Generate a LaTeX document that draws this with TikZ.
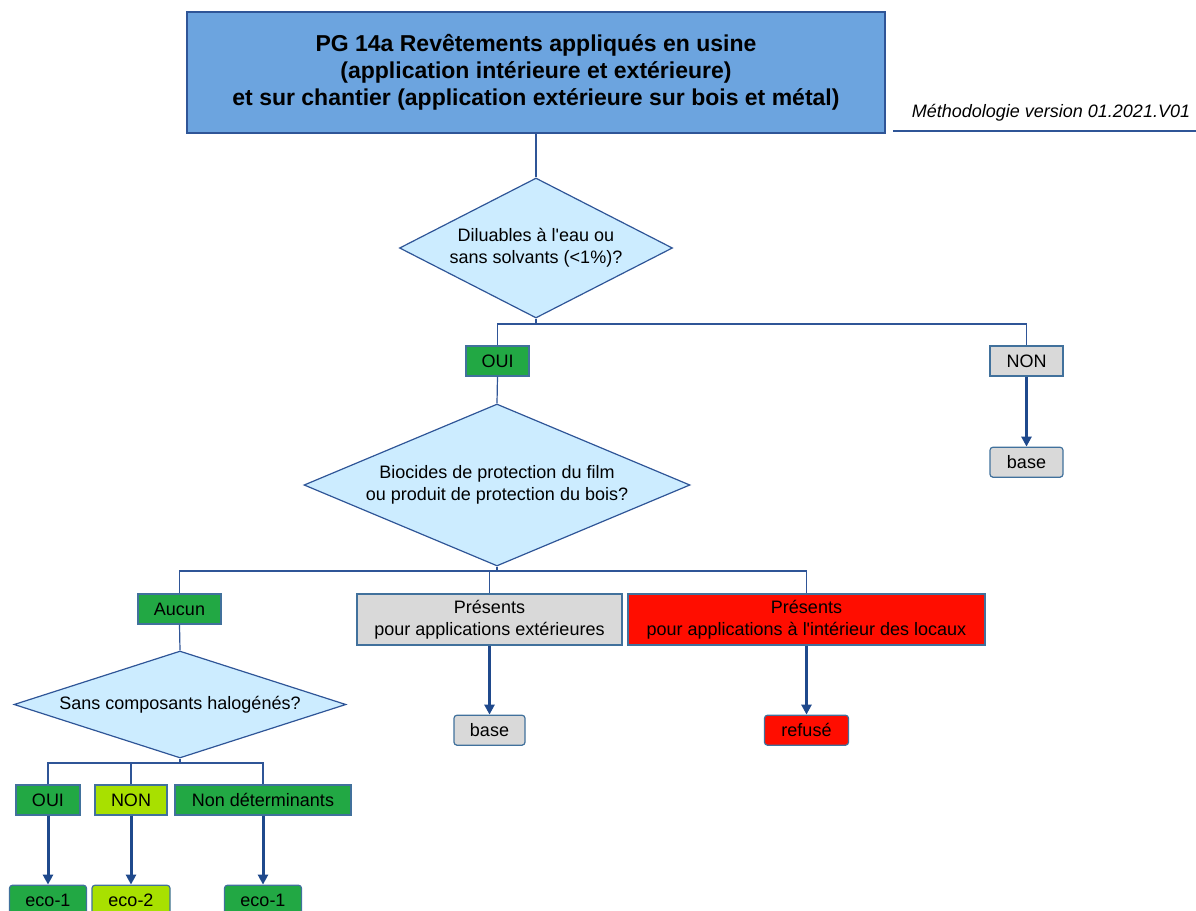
\documentclass[tikz,border=0pt]{standalone}
\usepackage{fontspec}
\setmainfont{Liberation Sans}
\usepackage{tikz}
\usetikzlibrary{arrows.meta,positioning,shapes.geometric}
\usepackage{xcolor}

\definecolor{titrebleu}{RGB}{108,164,223}
\definecolor{losange}{RGB}{204,236,255}
\definecolor{trait}{RGB}{47,85,151}
\definecolor{cadre}{RGB}{65,113,156}
\definecolor{bleufonce}{RGB}{31,73,140}
\definecolor{vert}{RGB}{34,168,68}
\definecolor{vertclair}{RGB}{168,224,0}
\definecolor{gris}{RGB}{217,217,217}
\definecolor{rouge}{RGB}{255,13,0}

\begin{document}
\begin{tikzpicture}[x=0.5pt,y=-0.5pt,semithick,draw=trait,
			font=\fontsize{9}{11}\selectfont]
				\tikzstyle{titre}=[rectangle,draw=trait,fill=titrebleu,align=center,
					minimum width=349pt,minimum height=60.5pt,
					font=\bfseries\fontsize{11.5}{13.5}\selectfont]
				\tikzstyle{question}=[diamond,draw=trait,fill=losange,align=center,inner sep=0pt]
				\tikzstyle{reponse}=[rectangle,draw=cadre,align=center,inner sep=0pt,minimum height=15pt]
				\tikzstyle{resultat}=[reponse,rounded corners=1.5pt]
				\tikzstyle{fleche}=[-{Triangle[length=5pt,width=5pt]},line width=1.5pt,draw=bleufonce]
				
				\useasboundingbox (0,0) rectangle (1196,911);
				
				\node[titre] (T) at (536,72.5) {PG 14a Revêtements appliqués en usine\\
					(application intérieure et extérieure)\\
					et sur chantier (application extérieure sur bois et métal)};
				\node[font=\itshape\fontsize{9}{11}\selectfont] (M) at (1051,113) {Méthodologie version 01.2021.V01};
				
				\node[question,shape aspect=1.95,minimum width=136.5pt,minimum height=70pt] (Q1) at (536,248)
					{Diluables à l\textquotesingle eau ou\\sans solvants (<1\%)?};
				\node[reponse,fill=vert,minimum width=31.5pt] (OUI1) at (497.5,361) {OUI};
				\node[reponse,fill=gris,minimum width=36.5pt] (NON1) at (1026.5,361) {NON};
				\node[resultat,fill=gris,minimum width=36.5pt] (B1) [below=35pt of NON1] {base};
				
				\node[question,shape aspect=2.38,minimum width=193pt,minimum height=81pt] (Q2) at (497,485)
					{Biocides de protection du film\\ou produit de protection du bois?};
				\node[reponse,fill=vert,minimum width=41.5pt] (AUC) at (179.5,609) {Aucun};
				\node[reponse,fill=gris,minimum width=132.5pt,minimum height=25.5pt] (EXT) at (489.5,619.5)
					{Présents\\pour applications extérieures};
				\node[reponse,fill=rouge,minimum width=178.5pt,minimum height=25.5pt] (INT) at (806.5,619.5)
					{Présents\\pour applications à l\textquotesingle intérieur des locaux};
				\node[resultat,fill=gris,minimum width=35.5pt] (B2) [below=34.5pt of EXT] {base};
				\node[resultat,fill=rouge,minimum width=42pt] (REF) [below=34.5pt of INT] {refusé};
				
				\node[question,shape aspect=3.1,minimum width=166pt,minimum height=53.5pt] (Q3) at (180,704.5)
					{Sans composants halogénés?};
				\node[reponse,fill=vert,minimum width=32pt] (OUI3) at (48,800) {OUI};
				\node[reponse,fill=vertclair,minimum width=36pt] (NON3) at (131,800) {NON};
				\node[reponse,fill=vert,minimum width=88pt] (ND) at (263,800) {Non déterminants};
				\node[resultat,fill=vert,minimum width=38.5pt] (E1) [below=34.5pt of OUI3] {eco-1};
				\node[resultat,fill=vertclair,minimum width=39pt] (E2) [below=34.5pt of NON3] {eco-2};
				\node[resultat,fill=vert,minimum width=38.5pt] (E3) [below=34.5pt of ND] {eco-1};
				
				\coordinate (J1) at (536,324);
				\coordinate (J2) at (497,571);
				\coordinate (J3) at (180,763);
				
				\draw (893,131) -- (1196,131);
				\draw (T.south) -- (Q1.north);
				\draw (Q1.south) -- (J1);
				\draw (OUI1.north) |- (J1) -| (NON1.north);
				\draw (OUI1.south) -- (Q2.north);
				\draw (Q2.south) -- (J2);
				\draw (AUC.north) |- (J2) -| (INT.north);
				\draw (EXT.north) -- (EXT.north |- J2);
				\draw (AUC.south) -- (Q3.north);
				\draw (Q3.south) -- (J3);
				\draw (OUI3.north) |- (J3) -| (ND.north);
				\draw (NON3.north) -- (NON3.north |- J3);
				
				\path 	(NON1) edge[fleche] (B1)
						(EXT) edge[fleche] (B2)
						(INT) edge[fleche] (REF)
						(OUI3) edge[fleche] (E1)
						(NON3) edge[fleche] (E2)
						(ND) edge[fleche] (E3);
			\end{tikzpicture}
\end{document}
